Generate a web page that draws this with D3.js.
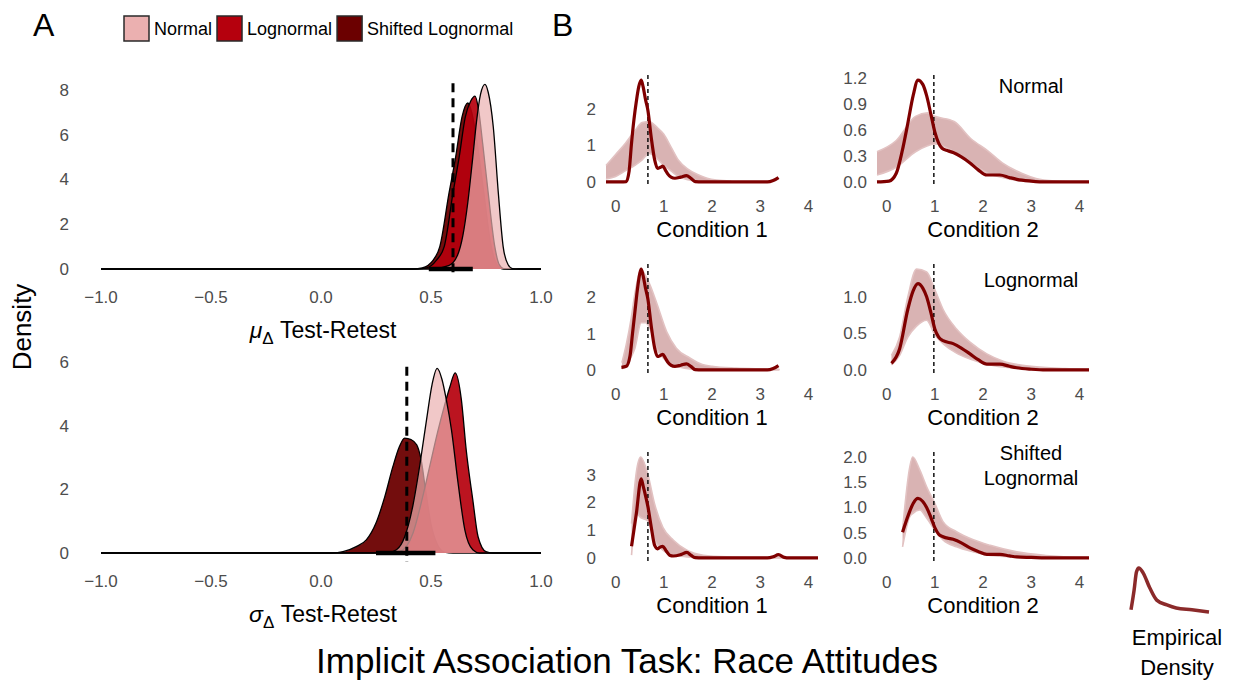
<!DOCTYPE html>
<html><head><meta charset="utf-8">
<script src="https://cdn.jsdelivr.net/npm/d3@7"></script>
<style>body{margin:0;background:#fff} text{font-family:"Liberation Sans",Arial,Helvetica,sans-serif}</style>
</head><body><svg id="c" width="1239" height="681"></svg>
<script>
// ---------- DATA ----------
const modelNames = ["Normal","Lognormal","Shifted Lognormal"];
const modelColors = ["#EBB0B0","#B5000D","#6B0000"];
const xTicksA = [-1,-0.5,0,0.5,1];
const yTicksMu = [0,2,4,6,8];
const yTicksSigma = [0,2,4,6];
// Panel A: posterior densities of test-retest (x, density)
const muNormal = [[-1,0],[0.5,0],[0.58,0.15],[0.62,0.6],[0.645,1.5],[0.667,2.95],[0.69,5.0],[0.707,6.6],[0.725,7.8],[0.745,8.25],[0.76,7.9],[0.783,6.36],[0.806,3.4],[0.828,1.0],[0.85,0.2],[0.87,0.02],[0.9,0],[1,0]];
const muLognormal = [[-1,0],[0.44,0],[0.48,0.05],[0.525,0.4],[0.56,1.0],[0.6,3.4],[0.628,5.0],[0.656,6.8],[0.68,7.5],[0.70,7.73],[0.715,7.2],[0.735,5.6],[0.76,3.4],[0.79,1.0],[0.81,0.2],[0.83,0.02],[0.86,0],[1,0]];
const muShifted = [[-1,0],[0.42,0],[0.46,0.05],[0.51,0.4],[0.54,1.0],[0.582,3.4],[0.612,5.0],[0.641,6.8],[0.667,7.42],[0.685,7.0],[0.71,5.6],[0.74,3.4],[0.77,1.2],[0.8,0.2],[0.83,0],[1,0]];
const sigmaNormal = [[-1,0],[0.3,0],[0.343,0.1],[0.38,0.5],[0.418,1.5],[0.45,2.8],[0.48,4.2],[0.505,5.3],[0.528,5.8],[0.55,5.45],[0.57,4.8],[0.593,3.87],[0.623,2.2],[0.654,0.72],[0.69,0.1],[0.72,0],[1,0]];
const sigmaLognormal = [[-1,0],[0.32,0],[0.36,0.05],[0.418,0.62],[0.46,1.7],[0.494,2.72],[0.53,3.8],[0.56,4.6],[0.585,5.2],[0.61,5.66],[0.638,4.82],[0.66,3.24],[0.69,1.67],[0.714,0.51],[0.75,0.04],[0.78,0],[1,0]];
const sigmaShifted = [[-1,0],[0.05,0],[0.1,0.04],[0.16,0.2],[0.206,0.41],[0.25,0.94],[0.29,1.77],[0.327,2.72],[0.357,3.35],[0.38,3.61],[0.41,3.56],[0.435,3.4],[0.455,2.93],[0.475,2.0],[0.5,0.9],[0.53,0.25],[0.56,0.03],[0.6,0],[1,0]];
const intervalMu = [0.49,0.69];
const intervalSigma = [0.25,0.52];
const refMu = 0.6;
const refSigma = 0.39;

// Panel B: posterior predictive envelopes [x, low, high] and empirical densities [x, density]
const xTicksB = [0,1,2,3,4];
const condTitles = ["Condition 1","Condition 2"];
const condRef = [0.67,0.98];
const bandNormal1 = [[-0.2,0.08,0.45],[0,0.15,0.75],[0.2,0.3,1.05],[0.4,0.45,1.4],[0.55,0.6,1.62],[0.7,0.78,1.65],[0.85,0.65,1.5],[1.0,0.45,1.3],[1.15,0.3,0.95],[1.3,0.15,0.6],[1.5,0.06,0.35],[1.7,0.02,0.2],[1.9,0,0.1],[2.1,0,0.05],[2.4,0,0.02]];
const bandNormal2 = [[-0.2,0.08,0.35],[0.2,0.17,0.48],[0.6,0.35,0.76],[0.85,0.42,0.8],[1.0,0.44,0.76],[1.4,0.35,0.7],[1.75,0.22,0.5],[2.1,0.1,0.36],[2.4,0.05,0.22],[2.8,0.01,0.1],[3.1,0,0.04],[3.5,0,0.01],[4.0,0,0]];
const bandLognormal1 = [[0.13,0.03,0.2],[0.22,0.14,0.7],[0.32,0.35,1.4],[0.4,0.6,2.1],[0.53,1.3,2.75],[0.62,1.3,2.6],[0.71,1.15,2.35],[0.85,0.6,1.85],[1.06,0.24,1.05],[1.26,0.1,0.6],[1.54,0.03,0.33],[1.8,0.01,0.15],[2.0,0,0.1],[2.5,0,0.05],[3.0,0,0.03],[3.4,0,0.02]];
const bandLognormal2 = [[0.1,0.07,0.2],[0.27,0.2,0.45],[0.44,0.45,1.0],[0.62,0.6,1.38],[0.83,0.68,1.34],[1.0,0.48,1.1],[1.17,0.36,0.83],[1.45,0.23,0.56],[1.73,0.15,0.38],[2.08,0.08,0.22],[2.42,0.04,0.12],[3.0,0.01,0.05],[3.7,0,0.02],[4.2,0,0.01]];
const bandShifted1 = [[0.33,0.1,1.24],[0.43,1.6,3.1],[0.52,1.46,3.64],[0.67,1.34,3.0],[0.81,0.64,1.94],[0.98,0.28,1.1],[1.2,0.1,0.64],[1.48,0.04,0.28],[1.82,0,0.1],[2.3,0,0.04],[3.0,0,0.02],[4.2,0,0.01]];
const bandShifted2 = [[0.33,0.22,0.55],[0.48,0.82,1.8],[0.54,0.88,2.0],[0.69,0.95,1.74],[0.83,0.79,1.41],[1.0,0.55,1.08],[1.17,0.36,0.72],[1.45,0.22,0.52],[1.8,0.12,0.36],[2.15,0.05,0.25],[2.7,0.02,0.12],[3.3,0,0.05],[4.2,0,0.01]];
const empNormal1 = [[-0.2,0],[0.1,0],[0.22,0.01],[0.28,0.3],[0.33,1.06],[0.38,1.7],[0.43,2.2],[0.48,2.6],[0.53,2.78],[0.57,2.6],[0.62,2.25],[0.67,1.95],[0.74,1.2],[0.81,0.6],[0.87,0.37],[0.93,0.4],[0.98,0.43],[1.03,0.33],[1.08,0.22],[1.15,0.13],[1.23,0.1],[1.35,0.13],[1.47,0.17],[1.56,0.1],[1.65,0.01],[1.8,0],[3.15,0],[3.27,0.04],[3.38,0.12]];
const empLognormal1 = [[0.12,0.07],[0.22,0.1],[0.3,0.4],[0.35,1.0],[0.4,1.6],[0.45,2.2],[0.5,2.65],[0.53,2.78],[0.57,2.6],[0.62,2.25],[0.67,1.95],[0.74,1.2],[0.81,0.6],[0.87,0.37],[0.93,0.4],[0.98,0.43],[1.03,0.33],[1.08,0.22],[1.15,0.13],[1.23,0.1],[1.35,0.13],[1.47,0.17],[1.56,0.1],[1.65,0.01],[1.8,0],[3.15,0],[3.27,0.04],[3.38,0.12]];
const empShifted1 = [[0.33,0.42],[0.43,1.6],[0.53,2.85],[0.57,2.6],[0.62,2.25],[0.67,1.85],[0.74,1.1],[0.81,0.45],[0.87,0.33],[0.93,0.4],[0.98,0.42],[1.05,0.25],[1.12,0.1],[1.2,0.07],[1.35,0.12],[1.48,0.2],[1.56,0.1],[1.65,0.01],[1.8,0],[3.15,0],[3.27,0.04],[3.38,0.12],[3.5,0.02],[3.6,0],[4.2,0]];
const empNormal2 = [[-0.2,0],[0.05,0.01],[0.2,0.1],[0.32,0.35],[0.44,0.68],[0.55,1.0],[0.65,1.18],[0.75,1.13],[0.83,1.0],[0.92,0.78],[1.0,0.58],[1.08,0.45],[1.15,0.39],[1.27,0.36],[1.38,0.34],[1.55,0.29],[1.73,0.22],[1.9,0.14],[2.08,0.08],[2.35,0.08],[2.55,0.05],[2.7,0.03],[3.0,0.01],[3.3,0],[4.2,0]];
const empLognormal2 = [[0.1,0.09],[0.27,0.29],[0.44,0.83],[0.55,1.08],[0.65,1.18],[0.75,1.12],[0.83,1.0],[0.92,0.78],[1.0,0.56],[1.08,0.45],[1.17,0.4],[1.38,0.36],[1.55,0.3],[1.73,0.22],[1.9,0.14],[2.08,0.08],[2.35,0.08],[2.55,0.05],[2.7,0.03],[3.0,0.01],[3.3,0],[4.2,0]];
const empShifted2 = [[0.33,0.51],[0.45,0.85],[0.55,1.08],[0.65,1.18],[0.75,1.12],[0.83,1.0],[0.92,0.8],[1.0,0.6],[1.08,0.47],[1.17,0.42],[1.38,0.37],[1.55,0.3],[1.73,0.2],[1.9,0.13],[2.08,0.07],[2.35,0.07],[2.55,0.04],[2.7,0.02],[3.0,0.01],[3.3,0],[4.2,0]];
const yTicksN1 = [0,1,2], yTicksN2 = [0,0.3,0.6,0.9,1.2];
const yTicksL1 = [0,1,2], yTicksL2 = [0,0.5,1.0];
const yTicksS1 = [0,1,2,3], yTicksS2 = [0,0.5,1.0,1.5,2.0];
const rowLabels = [["Normal"],["Lognormal"],["Shifted","Lognormal"]];
// legend icon for empirical density (normalized units)
const iconCurve = [[0,0.05],[0.04,0.5],[0.07,0.91],[0.1,1],[0.155,0.89],[0.24,0.55],[0.33,0.27],[0.46,0.16],[0.58,0.09],[0.78,0.05],[1,0]];

// ---------- DRAW ----------
const svg = d3.select("#c");
svg.append("rect").attr("width",1239).attr("height",681).attr("fill","#fff");
const tickCol = "#4D4D4D";

// Panel labels
svg.append("text").attr("x",33).attr("y",36).attr("font-size",32).text("A");
svg.append("text").attr("x",552).attr("y",36).attr("font-size",32).text("B");

// Legend
const leg = svg.append("g");
let lx = 124;
modelNames.forEach((n,i)=>{
  leg.append("rect").attr("x",lx).attr("y",16).attr("width",25).attr("height",25)
    .attr("fill",modelColors[i]).attr("stroke","#2a2a2a").attr("stroke-width",1.5);
  const t = leg.append("text").attr("x",lx+30).attr("y",35).attr("font-size",18)
    .attr("textLength", null).text(n);
  lx += 30 + t.node().getComputedTextLength() + 5;
});

// Panel A
const xA = d3.scaleLinear().domain([-1,1]).range([101,541]);
const fillOp = [0.7,0.92,0.95];
const panelsA = [
  {y:d3.scaleLinear().domain([0,8]).range([269,90]), ticks:yTicksMu,
   series:[muShifted,muLognormal,muNormal], idx:[2,1,0], interval:intervalMu, ref:refMu, refRange:[8.3,-0.35], param:"μ"},
  {y:d3.scaleLinear().domain([0,6]).range([553,362]), ticks:yTicksSigma,
   series:[sigmaShifted,sigmaLognormal,sigmaNormal], idx:[2,1,0], interval:intervalSigma, ref:refSigma, refRange:[5.85,-0.28], param:"σ"}
];
panelsA.forEach(p=>{
  const g = svg.append("g");
  const y = p.y;
  p.series.forEach((s,k)=>{
    const mi = p.idx[k];
    g.append("path").datum(s)
      .attr("d", d3.area().x(d=>xA(d[0])).y0(y(0)).y1(d=>y(d[1])).curve(d3.curveMonotoneX))
      .attr("fill", modelColors[mi]).attr("fill-opacity", fillOp[mi]);
    g.append("path").datum(s)
      .attr("d", d3.line().x(d=>xA(d[0])).y(d=>y(d[1])).curve(d3.curveMonotoneX))
      .attr("fill","none").attr("stroke","#000").attr("stroke-width",1.3);
  });
  g.append("line").attr("x1",xA(p.interval[0])).attr("x2",xA(p.interval[1]))
    .attr("y1",y(0)).attr("y2",y(0)).attr("stroke","#000").attr("stroke-width",4.5);
  g.append("line").attr("x1",xA(p.ref)).attr("x2",xA(p.ref))
    .attr("y1",y(p.refRange[0])).attr("y2",y(p.refRange[1]))
    .attr("stroke","#000").attr("stroke-width",3).attr("stroke-dasharray","9,6");
  p.ticks.forEach(t=>{
    g.append("text").attr("x",69).attr("y",y(t)).attr("dy","0.35em").attr("text-anchor","end")
      .attr("font-size",17).attr("fill",tickCol).text(d3.format("d")(t));
  });
  const ty = y(0)+28;
  xTicksA.forEach(t=>{
    g.append("text").attr("x",xA(t)).attr("y",ty).attr("dy","0.35em").attr("text-anchor","middle")
      .attr("font-size",17).attr("fill",tickCol).text(d3.format(".1f")(t));
  });
  const tt = g.append("text").attr("x",323).attr("y",y(0)+69).attr("text-anchor","middle").attr("font-size",23);
  tt.append("tspan").attr("font-style","italic").text(p.param);
  tt.append("tspan").attr("dy",6).attr("font-size",17).text("Δ");
  tt.append("tspan").attr("dy",-6).text(" Test-Retest");
});
svg.append("text").attr("transform","translate(31,327) rotate(-90)").attr("text-anchor","middle")
  .attr("font-size",26).text("Density");

// Panel B
const colX = [[606,818],[877,1089]];
const rowY = [[75,187],[264,375],[452,563]];
const labelY = [86,280,453];
const panelsB = [
  {r:0,c:0,band:bandNormal1,emp:empNormal1,ticks:yTicksN1},
  {r:0,c:1,band:bandNormal2,emp:empNormal2,ticks:yTicksN2},
  {r:1,c:0,band:bandLognormal1,emp:empLognormal1,ticks:yTicksL1},
  {r:1,c:1,band:bandLognormal2,emp:empLognormal2,ticks:yTicksL2},
  {r:2,c:0,band:bandShifted1,emp:empShifted1,ticks:yTicksS1},
  {r:2,c:1,band:bandShifted2,emp:empShifted2,ticks:yTicksS2}
];
panelsB.forEach(p=>{
  const g = svg.append("g");
  const x = d3.scaleLinear().domain([-0.2,4.2]).range(colX[p.c]);
  const M = Math.max(d3.max(p.band,d=>d[2]), d3.max(p.emp,d=>d[1]));
  const y = d3.scaleLinear().domain([-0.05*M,1.05*M]).range([rowY[p.r][1],rowY[p.r][0]]);
  g.append("path").datum(p.band)
    .attr("d", d3.area().x(d=>x(d[0])).y0(d=>y(d[1])).y1(d=>y(d[2])).curve(d3.curveMonotoneX))
    .attr("fill","#D0A0A0").attr("fill-opacity",0.8);
  [1,2].forEach(j=>{
    g.append("path").datum(p.band)
      .attr("d", d3.line().x(d=>x(d[0])).y(d=>y(d[j])).curve(d3.curveMonotoneX))
      .attr("fill","none").attr("stroke","#E2C2C2").attr("stroke-width",1.6);
  });
  g.append("line").attr("x1",x(condRef[p.c])).attr("x2",x(condRef[p.c]))
    .attr("y1",rowY[p.r][0]).attr("y2",rowY[p.r][1])
    .attr("stroke","#000").attr("stroke-width",1.4).attr("stroke-dasharray","4,3");
  g.append("path").datum(p.emp)
    .attr("d", d3.line().x(d=>x(d[0])).y(d=>y(d[1])).curve(d3.curveMonotoneX))
    .attr("fill","none").attr("stroke","#7F0000").attr("stroke-width",3.2).attr("stroke-linejoin","round");
  const fmt = p.c===0 ? d3.format("d") : d3.format(".1f");
  p.ticks.forEach(t=>{
    g.append("text").attr("x",colX[p.c][0]-10).attr("y",y(t)).attr("dy","0.35em").attr("text-anchor","end")
      .attr("font-size",17).attr("fill",tickCol).text(fmt(t));
  });
  xTicksB.forEach(t=>{
    g.append("text").attr("x",x(t)).attr("y",rowY[p.r][1]+19).attr("dy","0.35em").attr("text-anchor","middle")
      .attr("font-size",17).attr("fill",tickCol).text(t);
  });
  g.append("text").attr("x",(colX[p.c][0]+colX[p.c][1])/2).attr("y",rowY[p.r][1]+42).attr("dy","0.35em")
    .attr("text-anchor","middle").attr("font-size",22).text(condTitles[p.c]);
  if(p.c===1){
    rowLabels[p.r].forEach((l,k)=>{
      g.append("text").attr("x",1031).attr("y",labelY[p.r]+k*25).attr("dy","0.35em")
        .attr("text-anchor","middle").attr("font-size",20).text(l);
    });
  }
});

// Empirical density legend
const ix = d3.scaleLinear().domain([0,1]).range([1131,1209]);
const iy = d3.scaleLinear().domain([0,1]).range([612,568]);
svg.append("path").datum(iconCurve)
  .attr("d", d3.line().x(d=>ix(d[0])).y(d=>iy(d[1])).curve(d3.curveMonotoneX))
  .attr("fill","none").attr("stroke","#8B2A2A").attr("stroke-width",3.5);
svg.append("text").attr("x",1177).attr("y",637).attr("dy","0.35em").attr("text-anchor","middle").attr("font-size",22).text("Empirical");
svg.append("text").attr("x",1177).attr("y",667).attr("dy","0.35em").attr("text-anchor","middle").attr("font-size",22).text("Density");

// Title
svg.append("text").attr("x",627).attr("y",673).attr("text-anchor","middle").attr("font-size",35)
  .text("Implicit Association Task: Race Attitudes");
</script></body></html>
